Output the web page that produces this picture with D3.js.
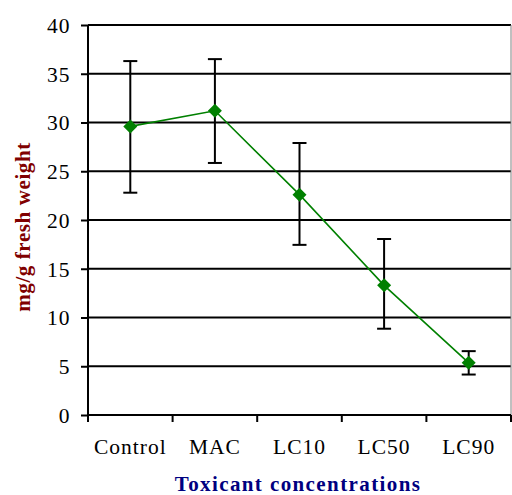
<!DOCTYPE html>
<html><head><meta charset="utf-8">
<script src="https://cdn.jsdelivr.net/npm/d3@7"></script>
<style>
html,body{margin:0;padding:0;background:#fff;}
svg{display:block;font-family:"Liberation Serif","Times New Roman",serif;}
</style></head>
<body>
<svg id="chart" width="512" height="495"></svg>
<script>
const categories = ["Control", "MAC", "LC10", "LC50", "LC90"];
const means = [29.6, 31.2, 22.6, 13.3, 5.35];
const errUpper = [36.3, 36.5, 27.9, 18.05, 6.55];
const errLower = [22.8, 25.85, 17.45, 8.85, 4.15];
const yTicks = [0, 5, 10, 15, 20, 25, 30, 35, 40];
const yTitle = "mg/g fresh weight";
const xTitle = "Toxicant concentrations";

(function () {
const svg = d3.select("#chart");
const pL = 88, pR = 511, pT = 25, pB = 415;

const x = d3.scaleBand().domain(categories).range([pL, pR]).paddingInner(0).paddingOuter(0);
const y = d3.scaleLinear().domain([0, 40]).range([pB, pT]);
const cx = d => x(d) + x.bandwidth() / 2;

// gridlines
svg.append("g").selectAll("line").data(yTicks.filter(t => t > 0)).join("line")
  .attr("x1", pL).attr("x2", pR)
  .attr("y1", d => y(d)).attr("y2", d => y(d))
  .attr("stroke", "#000").attr("stroke-width", 2);

// right border
svg.append("line").attr("x1", pR).attr("x2", pR).attr("y1", pT).attr("y2", pB)
  .attr("stroke", "#808080").attr("stroke-width", 1);

// y axis
const yAxis = d3.axisLeft(y).tickValues(yTicks).tickSize(7).tickPadding(10.5);
const gy = svg.append("g").attr("transform", `translate(${pL},0)`).call(yAxis);
gy.select(".domain").attr("stroke", "#000").attr("stroke-width", 2).attr("d", `M0,${pT}V${pB}`);
gy.selectAll(".tick line").attr("stroke", "#000").attr("stroke-width", 2);
gy.selectAll(".tick text").attr("font-size", 21.5).attr("fill", "#000")
  .attr("font-family", "Liberation Serif").style("letter-spacing", "1px").attr("dy", "0.34em");

// x axis
const xAxis = d3.axisBottom(x).tickSize(0).tickPadding(0);
const gx = svg.append("g").attr("transform", `translate(0,${pB})`).call(xAxis);
gx.select(".domain").attr("stroke", "#000").attr("stroke-width", 2).attr("d", `M${pL},0H${pR}`);
gx.selectAll(".tick text").attr("font-size", 21.5).attr("fill", "#000").attr("y", 39).attr("dy", 0)
  .attr("font-family", "Liberation Serif").style("letter-spacing", "1px");
// boundary ticks
const bounds = categories.map(c => x(c)).concat([pR]);
svg.append("g").selectAll("line").data(bounds).join("line")
  .attr("x1", d => d).attr("x2", d => d).attr("y1", pB).attr("y2", pB + 7)
  .attr("stroke", "#000").attr("stroke-width", 2);

// error bars
const eb = svg.append("g").attr("stroke", "#000").attr("stroke-width", 2);
categories.forEach((c, i) => {
  eb.append("line").attr("x1", cx(c)).attr("x2", cx(c)).attr("y1", y(errUpper[i])).attr("y2", y(errLower[i]));
  eb.append("line").attr("x1", cx(c) - 7).attr("x2", cx(c) + 7).attr("y1", y(errUpper[i])).attr("y2", y(errUpper[i]));
  eb.append("line").attr("x1", cx(c) - 7).attr("x2", cx(c) + 7).attr("y1", y(errLower[i])).attr("y2", y(errLower[i]));
});

// line
const pts = categories.map((c, i) => [cx(c), y(means[i])]);
svg.append("path").attr("d", d3.line()(pts)).attr("fill", "none")
  .attr("stroke", "#008000").attr("stroke-width", 1.6);

// diamonds
svg.append("g").selectAll("path").data(pts).join("path")
  .attr("d", d => `M${d[0]},${d[1]-7}L${d[0]+7},${d[1]}L${d[0]},${d[1]+7}L${d[0]-7},${d[1]}Z`)
  .attr("fill", "#008000");

// titles
svg.append("text").attr("transform", `translate(29.5,227) rotate(-90)`)
  .attr("text-anchor", "middle").attr("font-weight", "bold").attr("font-size", 21)
  .style("letter-spacing", "0.6px").attr("fill", "#800000").text(yTitle);
svg.append("text").attr("x", 298).attr("y", 490.5)
  .attr("text-anchor", "middle").attr("font-weight", "bold").attr("font-size", 21)
  .style("letter-spacing", "1.4px").attr("fill", "#000080").text(xTitle);
})();
</script>
</body></html>
